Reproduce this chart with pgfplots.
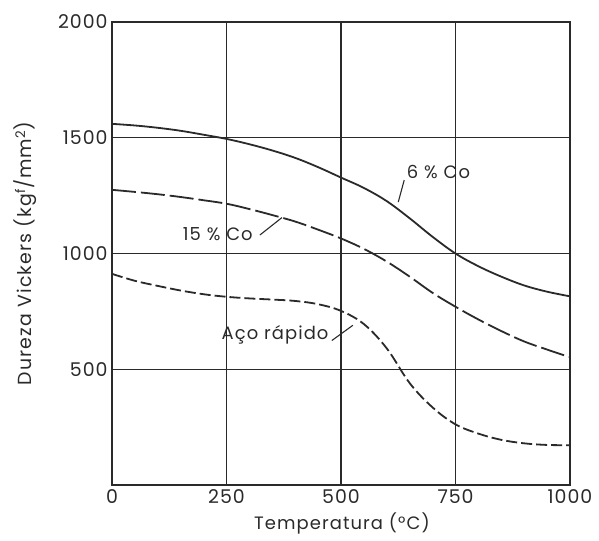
\documentclass[border=0pt]{standalone}
\usepackage{fontspec}
\setmainfont{Poppins}
\newfontfamily\lbl[LetterSpace=6]{Poppins}
\newfontfamily\tck[LetterSpace=5]{Poppins}
\usepackage{pgfplots}
\pgfplotsset{compat=1.18}
\definecolor{ink}{HTML}{2A2A2A}
\begin{document}
\begin{tikzpicture}
\begin{axis}[name=ax, scale only axis, width=458bp, height=463bp,
  xmin=0, xmax=1000, ymin=0, ymax=2000,
  xtick={0,250,500,750,1000}, ytick={500,1000,1500,2000},
  grid=major, major grid style={ink, line width=1.1bp},
  axis line style={ink, line width=1.3bp},
  major tick length=0pt,
  /pgf/number format/assume math mode=true,
  /pgf/number format/set thousands separator={},
  ticklabel style={font=\tck\fontsize{19}{22}\selectfont, text=ink},
  xticklabel style={yshift=-1bp},
  yticklabel style={xshift=-1bp},
  xlabel={Temperatura (°C)},
  ylabel={Dureza Vickers (kg\textsuperscript{f}/mm\textsuperscript{2})},
  label style={font=\lbl\fontsize{18}{21}\selectfont, text=ink},
  xlabel style={at={(axis description cs:0.502,-0.082)}, anchor=center},
  ylabel style={at={(axis description cs:-0.19,0.5)}, anchor=center, font=\lbl\fontsize{19}{22}\selectfont},
]
% 6 % Co
\addplot[ink, line width=1.8bp, no markers, smooth, tension=0.6] coordinates {(0,1560) (50,1553) (100,1543) (150,1530) (200,1513) (250,1495) (300,1472) (350,1445) (400,1413) (450,1373) (500,1328) (550,1283) (600,1226) (650,1152) (700,1072) (750,1000) (800,945) (850,900) (900,862) (950,835) (1000,815)};
% 15 % Co
\addplot[ink, line width=1.8bp, no markers, smooth, tension=0.6, dash pattern=on 24bp off 5bp] coordinates {(0,1275) (50,1266) (100,1256) (150,1244) (200,1230) (250,1215) (300,1192) (350,1166) (400,1138) (450,1103) (500,1065) (550,1020) (600,965) (650,900) (700,830) (750,770) (800,715) (850,665) (900,620) (950,585) (1000,552)};
% Aco rapido
\addplot[ink, line width=1.8bp, no markers, smooth, tension=0.6, dash pattern=on 11bp off 4bp] coordinates {(0,912) (50,882) (100,860) (150,840) (200,824) (250,813) (300,806) (350,801) (400,795) (450,781) (500,752) (550,695) (600,590) (650,440) (700,335) (750,262) (800,222) (850,195) (900,180) (950,173) (1000,172)};
\node[font=\lbl\fontsize{18}{21}\selectfont, text=ink] at (axis cs:713,1352) {6 \% Co};
\draw[ink, line width=1.1bp] (axis cs:625,1222) -- (axis cs:638,1317);
\node[font=\lbl\fontsize{18}{21}\selectfont, text=ink] at (axis cs:231,1083) {15 \% Co};
\draw[ink, line width=1.1bp] (axis cs:323,1080) -- (axis cs:371,1155);
\node[font=\lbl\fontsize{18}{21}\selectfont, text=ink] at (axis cs:356,650) {Aço rápido};
\draw[ink, line width=1.1bp] (axis cs:480,624) -- (axis cs:526,690);
\end{axis}
\pgfresetboundingbox
\path[use as bounding box] ([xshift=-112bp,yshift=-56bp]ax.south west) rectangle ([xshift=29bp,yshift=22bp]ax.north east);
\end{tikzpicture}
\end{document}
